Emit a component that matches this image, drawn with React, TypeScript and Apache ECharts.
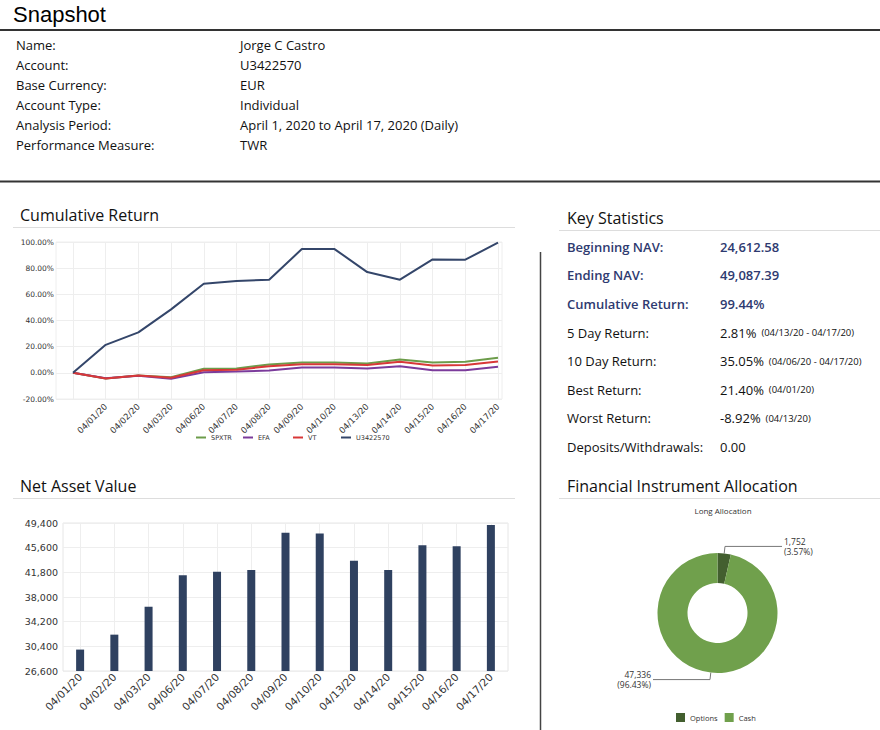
import React, { useEffect, useRef } from 'react';
import * as echarts from 'echarts';

// ---------- data ----------
const returnDates = ['', '04/01/20', '04/02/20', '04/03/20', '04/06/20', '04/07/20', '04/08/20', '04/09/20', '04/10/20', '04/13/20', '04/14/20', '04/15/20', '04/16/20', '04/17/20'];
const spxtrReturn = [0, -4.3, -2.0, -3.3, 3.1, 3.3, 6.4, 7.9, 7.9, 7.1, 10.2, 7.9, 8.4, 11.5];
const efaReturn = [0, -4.2, -2.2, -4.6, 0.5, 1.0, 1.8, 4.1, 4.1, 3.3, 5.1, 2.0, 2.0, 4.6];
const vtReturn = [0, -4.3, -2.1, -3.8, 2.0, 2.3, 5.1, 6.6, 6.6, 5.9, 8.4, 5.6, 5.9, 8.7];
const accountReturn = [0, 21.4, 30.9, 48.5, 68.1, 70.2, 71.2, 94.6, 94.6, 77.0, 71.2, 86.7, 86.5, 99.44];
const returnSeriesNames = ['SPXTR', 'EFA', 'VT', 'U3422570'];

const navDates = ['04/01/20', '04/02/20', '04/03/20', '04/06/20', '04/07/20', '04/08/20', '04/09/20', '04/10/20', '04/13/20', '04/14/20', '04/15/20', '04/16/20', '04/17/20'];
const navValues = [29900, 32200, 36500, 41350, 41900, 42160, 47900, 47800, 43600, 42160, 45960, 45800, 49087];

const allocationNames = ['Options', 'Cash'];
const allocationValues = [1752, 47336];

const infoLabels = ['Name:', 'Account:', 'Base Currency:', 'Account Type:', 'Analysis Period:', 'Performance Measure:'];
const infoValues = ['Jorge C Castro', 'U3422570', 'EUR', 'Individual', 'April 1, 2020 to April 17, 2020 (Daily)', 'TWR'];

const statLabels = ['Beginning NAV:', 'Ending NAV:', 'Cumulative Return:', '5 Day Return:', '10 Day Return:', 'Best Return:', 'Worst Return:', 'Deposits/Withdrawals:'];
const statValues = ['24,612.58', '49,087.39', '99.44%', '2.81%', '35.05%', '21.40%', '-8.92%', '0.00'];
const statNotes = ['', '', '', '(04/13/20 - 04/17/20)', '(04/06/20 - 04/17/20)', '(04/01/20)', '(04/13/20)', ''];

const OPEN = '"Open Sans", "Noto Sans", sans-serif';
const DEJA = '"DejaVu Sans", sans-serif';
const NAVY_TEXT = '#2e3a70';

function txt(text: string, x: number, y: number, size: number, opts: any = {}) {
  return {
    type: 'text',
    silent: true,
    style: {
      text,
      x,
      y,
      fill: opts.fill || '#111',
      fontSize: size,
      fontFamily: opts.family || OPEN,
      fontWeight: opts.weight || 'normal',
      textAlign: opts.align || 'left',
      align: opts.align || 'left',
      textVerticalAlign: 'middle',
      verticalAlign: 'middle',
      rich: opts.rich,
    },
  };
}

function hline(x1: number, x2: number, y: number, color: string, w: number) {
  return { type: 'line', silent: true, shape: { x1, y1: y, x2, y2: y }, style: { stroke: color, lineWidth: w } };
}

export default function App() {
  const ref = useRef<HTMLDivElement>(null);

  useEffect(() => {
    if (!ref.current) return;
    const chart = echarts.init(ref.current, undefined, { renderer: 'svg' });

    const graphics: any[] = [];
    graphics.push(txt('Snapshot', 13, 14, 22, { family: '"Liberation Sans", Arial, sans-serif', fill: '#000' }));
    graphics.push(hline(0, 880, 30, '#333', 2));
    infoLabels.forEach((l, i) => {
      graphics.push(txt(l, 16, 45 + i * 20, 13));
      graphics.push(txt(infoValues[i], 240, 45 + i * 20, 13));
    });
    graphics.push(hline(0, 880, 181.5, '#333', 2));

    graphics.push(txt('Cumulative Return', 20, 214.5, 16));
    graphics.push(hline(13, 515, 227.5, '#ddd', 1));
    graphics.push(txt('Net Asset Value', 20, 486, 16));
    graphics.push(hline(13, 515, 498.5, '#ddd', 1));
    graphics.push(txt('Key Statistics', 567, 217.5, 16));
    graphics.push(hline(559, 880, 230.5, '#ddd', 1));
    graphics.push(txt('Financial Instrument Allocation', 567, 485.5, 16));
    graphics.push(hline(559, 880, 498.5, '#ddd', 1));
    graphics.push({ type: 'line', silent: true, shape: { x1: 540.5, y1: 252, x2: 540.5, y2: 730 }, style: { stroke: '#444', lineWidth: 1.5 } });

    statLabels.forEach((l, i) => {
      const y = 246.7 + i * 28.6;
      const strong = i < 3;
      graphics.push(txt(l, 567, y, 13, strong ? { fill: NAVY_TEXT, weight: 600 } : {}));
      if (statNotes[i]) {
        graphics.push(
          txt(`{v|${statValues[i]}}{n|  ${statNotes[i]}}`, 720, y, 13, {
            rich: {
              v: { fontSize: 13, fontFamily: OPEN, fill: '#111', color: '#111' },
              n: { fontSize: 9.5, fontFamily: OPEN, fill: '#111', color: '#111' },
            },
          })
        );
      } else {
        graphics.push(txt(statValues[i], 720, y, 13, strong ? { fill: NAVY_TEXT, weight: 600 } : {}));
      }
    });

    const lineSeries = (name: string, data: number[], color: string) => ({
      name,
      type: 'line',
      xAxisIndex: 1,
      yAxisIndex: 1,
      data,
      symbol: 'none',
      lineStyle: { width: 2, color },
      itemStyle: { color },
    });

    const legendLefts = [191, 238, 288, 336];

    const option: any = {
      animation: false,
      textStyle: { fontFamily: DEJA },
      title: [
        {
          text: 'Long Allocation',
          left: 718,
          top: 501,
          textAlign: 'center',
          textStyle: { fontSize: 8, fontWeight: 'normal', color: '#333', fontFamily: OPEN },
        },
      ],
      legend: [
        ...returnSeriesNames.map((n, i) => ({
          data: [n],
          left: legendLefts[i],
          top: 429,
          itemWidth: 10,
          itemHeight: 2,
          icon: 'rect',
          textStyle: { fontSize: 6.5, color: '#333', fontFamily: DEJA },
        })),
        {
          data: allocationNames,
          left: 671,
          top: 708,
          itemWidth: 9,
          itemHeight: 9,
          icon: 'rect',
          itemGap: 7,
          textStyle: { fontSize: 7.5, color: '#333', fontFamily: OPEN },
        },
      ],
      grid: [
        { left: 56, top: 242, width: 446, height: 157, show: true, borderColor: '#eee', borderWidth: 1, containLabel: false },
        { left: 73, top: 242, width: 425, height: 157, containLabel: false },
        { left: 63, top: 523, width: 445, height: 148, show: true, borderColor: '#e6e6e6', borderWidth: 1, containLabel: false },
      ],
      xAxis: [
        { type: 'value', gridIndex: 0, min: 0, max: 1, show: false },
        {
          type: 'category',
          gridIndex: 1,
          data: returnDates,
          boundaryGap: false,
          axisLine: { show: false },
          axisTick: { show: false },
          axisLabel: { rotate: 45, interval: 0, fontSize: 8.5, color: '#333', fontFamily: DEJA, margin: 6 },
          splitLine: { show: true, lineStyle: { color: '#eee' } },
        },
        {
          type: 'category',
          gridIndex: 2,
          data: navDates,
          boundaryGap: true,
          axisLine: { show: false },
          axisTick: { show: false },
          axisLabel: { rotate: 45, interval: 0, fontSize: 10.5, color: '#333', fontFamily: DEJA, margin: 4 },
          splitLine: { show: true, alignWithLabel: true, interval: 0, lineStyle: { color: '#eee' } },
        },
      ],
      yAxis: [
        {
          type: 'value',
          gridIndex: 0,
          min: -20,
          max: 100,
          interval: 20,
          axisLine: { show: false },
          axisTick: { show: false },
          axisLabel: { fontSize: 7.5, color: '#333', fontFamily: DEJA, margin: 2, formatter: (v: number) => v.toFixed(2) + '%' },
          splitLine: { show: true, lineStyle: { color: '#eee' } },
        },
        { type: 'value', gridIndex: 1, min: -20, max: 100, show: false },
        {
          type: 'value',
          gridIndex: 2,
          min: 26600,
          max: 49400,
          interval: 3800,
          axisLine: { show: false },
          axisTick: { show: false },
          axisLabel: { fontSize: 9.5, color: '#333', fontFamily: DEJA, margin: 5, formatter: (v: number) => v.toLocaleString('en-US') },
          splitLine: { show: true, lineStyle: { color: '#eee' } },
        },
      ],
      series: [
        lineSeries('SPXTR', spxtrReturn, '#6c9c4a'),
        lineSeries('EFA', efaReturn, '#7b3b9b'),
        lineSeries('VT', vtReturn, '#d83838'),
        lineSeries('U3422570', accountReturn, '#34466a'),
        {
          name: 'NAV',
          type: 'bar',
          xAxisIndex: 2,
          yAxisIndex: 2,
          data: navValues,
          barWidth: 8,
          itemStyle: { color: '#2f4160' },
        },
        {
          name: 'Long Allocation',
          type: 'pie',
          center: [717.5, 613],
          radius: [30, 60],
          startAngle: 90,
          clockwise: true,
          data: allocationNames.map((n, i) => ({ name: n, value: allocationValues[i] })),
          color: ['#435f2f', '#70a04c'],
          label: {
            show: true,
            position: 'outside',
            fontSize: 8.5,
            lineHeight: 10,
            color: '#333',
            fontFamily: OPEN,
            distanceToLabelLine: 2,
            formatter: (p: any) => `${Number(p.value).toLocaleString('en-US')}\n(${p.percent.toFixed(2)}%)`,
          },
          labelLine: { show: true, length: 7, length2: 57, lineStyle: { color: '#777', width: 1 } },
          emphasis: { disabled: true },
        },
      ],
      graphic: graphics,
    };

    chart.setOption(option);
    return () => chart.dispose();
  }, []);

  return <div ref={ref} style={{ position: 'fixed', left: 0, top: 0, width: 880, height: 730, background: '#fff' }} />;
}
